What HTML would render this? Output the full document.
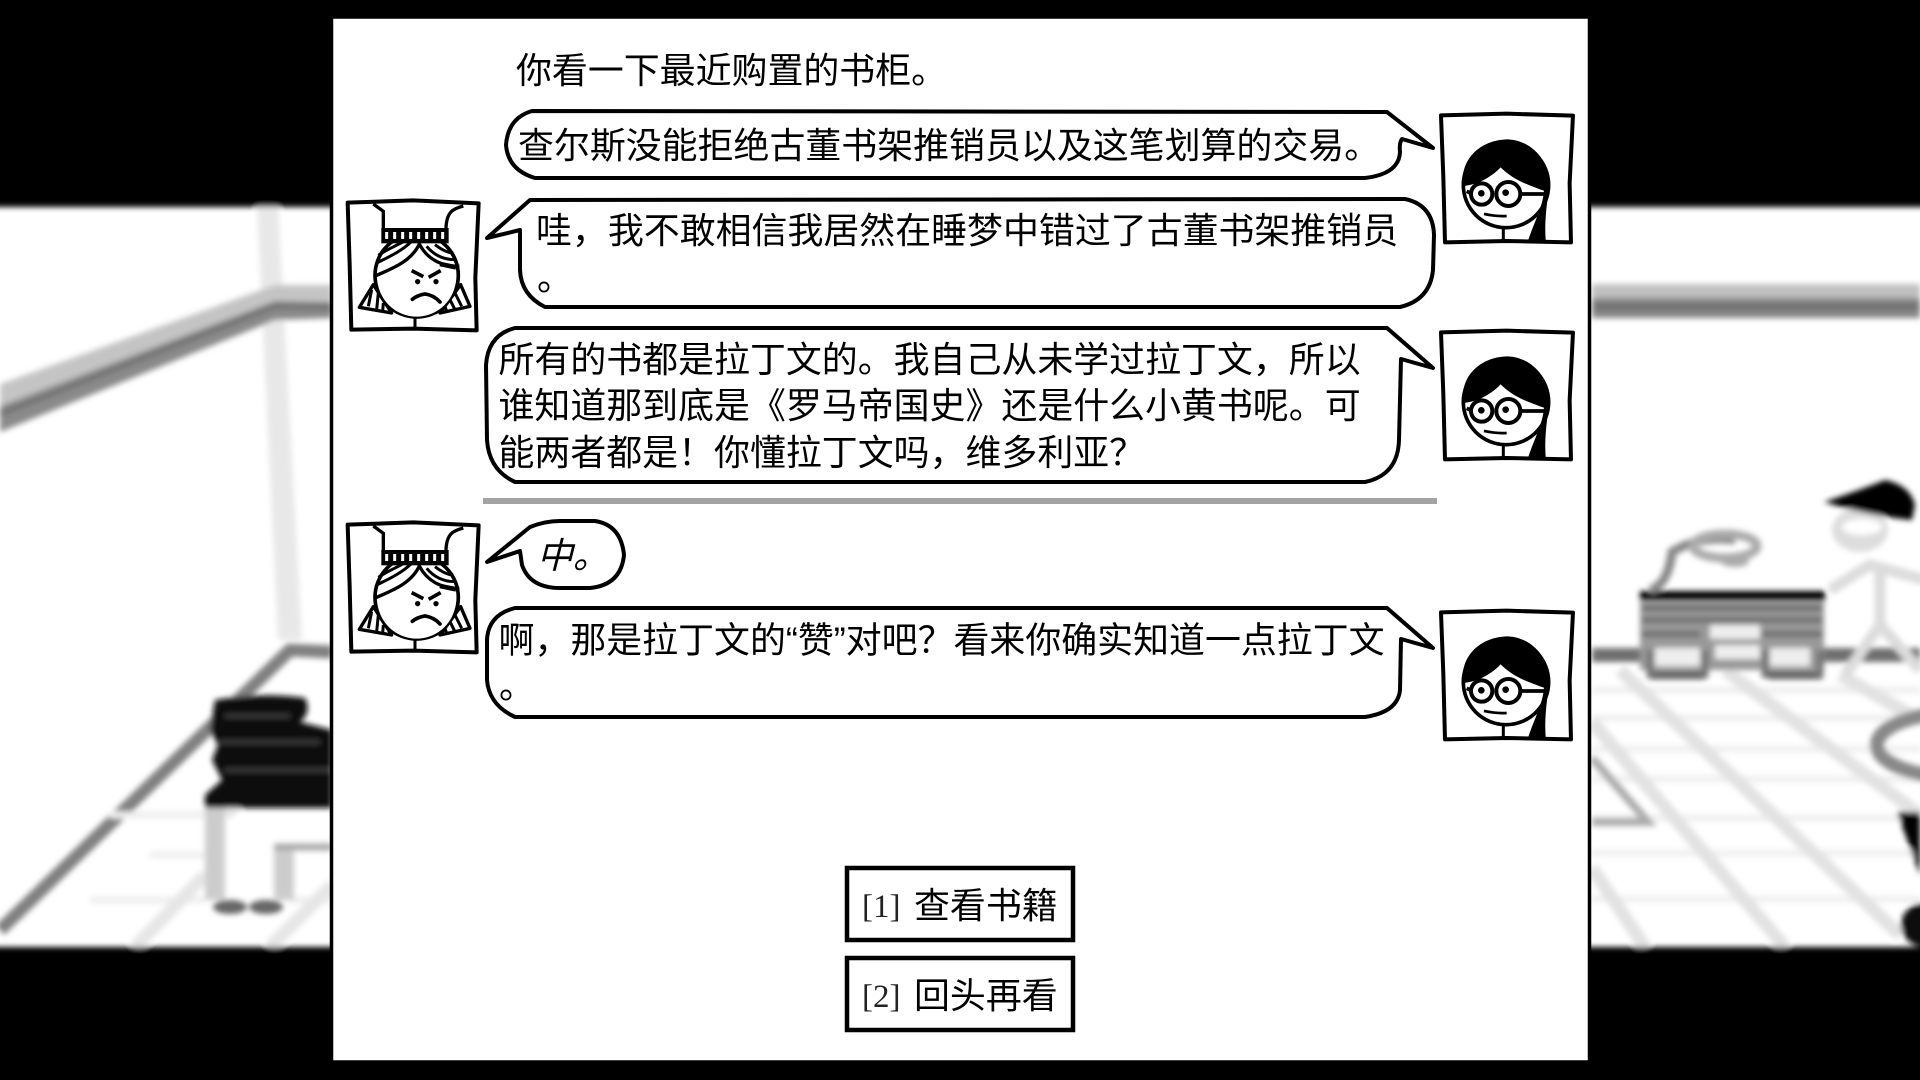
<!DOCTYPE html>
<html><head><meta charset="utf-8"><style>
html,body{margin:0;padding:0;background:#000;width:1920px;height:1080px;overflow:hidden}
svg{position:absolute;left:0;top:0;display:block}
.t{font-family:"Liberation Sans","Noto Sans CJK SC",sans-serif;font-size:35.93px;fill:#000}
.s{font-family:"Liberation Serif",serif;font-size:33px;fill:#222}
.b{fill:#fff;stroke:#000;stroke-width:4;stroke-linejoin:round}
</style></head><body>
<svg width="1920" height="1080" viewBox="0 0 1920 1080" xmlns="http://www.w3.org/2000/svg">
<defs>
<filter id="bl" x="-10%" y="-10%" width="120%" height="120%"><feGaussianBlur stdDeviation="2.8"/></filter>
<g id="girl" transform="translate(1280 90) scale(.3333)">
 <path d="M483 76 L680 71 L879 77 L869 280 L873 457 L680 453 L495 457 L490 260 Z" fill="#fff" stroke="#000" stroke-width="12" stroke-linejoin="round"/>
 <circle cx="678" cy="285" r="128" fill="#fff" stroke="#000" stroke-width="11"/>
 <path d="M550 288 C538 210 600 148 685 148 C765 153 817 225 808 307 L780 298 C745 285 700 270 662 232 C630 265 590 284 550 288 Z" fill="#000"/>
 <path d="M792 300 C790 350 760 400 742 460 L798 460 C792 400 800 350 806 300 Z" fill="#000"/>
 <circle cx="605" cy="312" r="32" fill="#fff" stroke="#000" stroke-width="12"/>
 <circle cx="685" cy="312" r="36" fill="#fff" stroke="#000" stroke-width="12"/>
 <path d="M560 304 L573 310 M720 312 L798 312" stroke="#000" stroke-width="11" fill="none"/>
 <circle cx="604" cy="310" r="10"/><circle cx="677" cy="308" r="10"/>
 <path d="M612 372 Q650 380 680 378" stroke="#000" stroke-width="8" fill="none"/>
 <path d="M670 412 V454" stroke="#000" stroke-width="9" fill="none"/>
</g>
<g id="crown" transform="translate(330 500) scale(.3333)">
 <path d="M53 74 L250 67 L446 76 L436 300 L440 457 L250 452 L64 455 L59 260 Z" fill="#fff" stroke="#000" stroke-width="12" stroke-linejoin="round"/>
 <path d="M130 78 L160 100 L160 150 M400 84 C370 92 350 100 348 150" stroke="#000" stroke-width="10" fill="none"/>
 <circle cx="260" cy="292" r="125" fill="#fff" stroke="#000" stroke-width="11"/>
 <path d="M130 320 L88 388 L185 405 Z M392 320 L420 385 L330 405 Z" fill="#fff" stroke="#000" stroke-width="10" stroke-linejoin="round"/>
 <path d="M125 335 L115 385 M145 345 L140 395 M160 375 L158 400 M375 345 L395 385 M360 365 L375 395 M345 385 L350 400" stroke="#000" stroke-width="9"/>
 <circle cx="260" cy="298" r="118" fill="#fff"/>
 <path d="M135 295 C160 280 240 260 268 198 C290 240 330 265 388 265" stroke="#000" stroke-width="10" fill="none"/>
 <path d="M140 255 C170 240 215 220 245 190 M145 232 C170 215 195 205 222 190 M290 205 C315 235 345 245 375 245 M315 200 C335 215 355 225 370 225" stroke="#000" stroke-width="9" fill="none"/>
 <path d="M330 258 L378 268" stroke="#000" stroke-width="14"/>
 <rect x="154" y="150" width="202" height="46" fill="#000"/>
 <path d="M170 162 V183 M194 162 V183 M218 162 V183 M242 162 V183 M266 162 V183 M290 162 V183 M314 162 V183 M338 162 V183" stroke="#fff" stroke-width="9"/>
 <path d="M245 278 L280 296 M332 278 L296 298" stroke="#000" stroke-width="11" fill="none"/>
 <circle cx="263" cy="311" r="8"/><circle cx="318" cy="311" r="8"/>
 <path d="M247 364 Q262 352 285 348 Q312 352 330 372" stroke="#000" stroke-width="11" fill="none" stroke-linecap="round"/>
 <path d="M255 418 V454" stroke="#000" stroke-width="9"/>
</g>
</defs>

<!-- background -->
<rect x="0" y="200" width="1920" height="755" fill="#fff"/>
<g filter="url(#bl)">
 <!-- left -->
 <path d="M257 205 L278 205 L302 640 L278 640 Z" fill="#e8e8e8"/>
 <path d="M0 384 L275 285 L332 285 L332 304 L275 304 L0 410 Z" fill="#c4c4c4"/>
 <path d="M0 406 L275 301 L332 302 L332 318 L275 320 L0 432 Z" fill="#8a8a8a"/>
 <path d="M0 414 L275 306 L332 307" fill="none" stroke="#6f6f6f" stroke-width="5"/>
 <path d="M0 930 L290 650 L332 652" fill="none" stroke="#808080" stroke-width="13"/>
 <path d="M110 815 H205 M150 855 H205 M90 900 H205 M290 900 H332" stroke="#efefef" stroke-width="7" fill="none"/>
 <path d="M135 947 L205 875 M270 947 L332 885 M225 815 L240 800" stroke="#e6e6e6" stroke-width="13" fill="none"/>
 <rect x="205" y="800" width="20" height="100" fill="#ccc"/>
 <rect x="274" y="845" width="20" height="55" fill="#ccc"/>
 <path d="M274 847 H332" stroke="#aaa" stroke-width="7"/>
 <ellipse cx="230" cy="907" rx="17" ry="7" fill="#666"/><ellipse cx="266" cy="907" rx="17" ry="7" fill="#666"/>
 <path d="M215 700 Q260 692 305 698 Q312 712 300 722 L332 730 L332 808 L205 808 L205 795 L222 780 L212 760 L218 745 L210 730 Z" fill="#0c0c0c"/>
 <path d="M225 716 H290 M220 742 H320 M225 770 H332" stroke="#444" stroke-width="3" fill="none"/>
 <!-- right -->
 <rect x="1592" y="284" width="328" height="15" fill="#c0c0c0"/>
 <rect x="1592" y="298" width="328" height="20" fill="#858585"/>
 <rect x="1592" y="304" width="328" height="5" fill="#6c6c6c"/>
 <path d="M1592 690 H1920 M1592 718 H1920 M1592 749 H1920 M1592 779 H1920 M1592 818 H1920 M1592 853 H1920 M1592 899 H1920" stroke="#f0f0f0" stroke-width="7" fill="none"/>
 <path d="M1620 670 L1900 935 M1725 670 L1920 815 M1592 722 L1785 947 M1592 868 L1645 947 M1840 675 L1920 720" stroke="#e2e2e2" stroke-width="13" fill="none"/>
 <path d="M1592 758 L1648 822 H1592" stroke="#aaa" stroke-width="8" fill="none"/>
 <rect x="1592" y="648" width="328" height="14" fill="#707070"/>
 <!-- desk -->
 <rect x="1640" y="602" width="184" height="68" fill="#999"/>
 <rect x="1710" y="625" width="50" height="14" fill="#eee"/>
 <rect x="1715" y="645" width="45" height="14" fill="#eee"/>
 <rect x="1655" y="648" width="45" height="18" fill="#eee"/>
 <rect x="1770" y="648" width="40" height="18" fill="#eee"/>
 <path d="M1642 608 H1822 M1642 620 H1822 M1642 634 H1700 M1762 634 H1822" stroke="#666" stroke-width="5" fill="none"/>
 <path d="M1650 675 H1705 M1768 675 H1822" stroke="#666" stroke-width="9" fill="none"/>
 <path d="M1650 650 V678 M1705 650 V678 M1765 650 V678 M1820 650 V678" stroke="#777" stroke-width="7" fill="none"/>
 <path d="M1640 596 H1825" stroke="#000" stroke-width="10"/>
 <path d="M1650 590 Q1668 585 1672 552 Q1700 535 1735 540" fill="none" stroke="#888" stroke-width="9"/>
 <ellipse cx="1725" cy="546" rx="32" ry="12" fill="none" stroke="#aaa" stroke-width="9"/>
 <ellipse cx="1735" cy="562" rx="14" ry="5" fill="#aaa"/>
 <!-- person -->
 <path d="M1830 590 L1870 565 L1925 580 M1880 565 V625 L1845 675 M1880 625 L1920 670" fill="none" stroke="#dcdcdc" stroke-width="11"/>
 <ellipse cx="1860" cy="530" rx="28" ry="22" fill="#ddd"/>
 <ellipse cx="1862" cy="527" rx="20" ry="8" fill="#fff"/>
 <path d="M1824 502 Q1860 490 1885 480 Q1910 485 1915 505 L1912 520 Q1870 516 1824 502 Z" fill="#000"/>
 <ellipse cx="1955" cy="745" rx="78" ry="32" fill="none" stroke="#888" stroke-width="14"/>
 <path d="M1897 812 L1920 812 L1920 875 Z" fill="#000"/>
 <ellipse cx="1925" cy="925" rx="24" ry="22" fill="#111"/>
 <!-- letterbox -->
 <rect x="-20" y="-20" width="1960" height="227" fill="#000"/>
 <rect x="-20" y="947" width="1960" height="150" fill="#000"/>
</g>

<!-- panel -->
<rect x="331.5" y="17" width="1258" height="1045" fill="#fff" stroke="#000" stroke-width="3.5"/>

<!-- divider -->
<rect x="483" y="498" width="954" height="6" fill="#a3a3a3"/>

<!-- avatars -->
<use href="#girl"/>
<use href="#girl" transform="translate(0 217)"/>
<use href="#girl" transform="translate(0 497)"/>
<use href="#crown"/>
<use href="#crown" transform="translate(0 -322)"/>

<!-- bubbles -->
<path class="b" d="M1387 112 L1433 148 L1402 139 Q1399 143 1400 152 Q1399 174 1365 178 L535 178 Q508 170 506 145 Q508 118 532 111 Z"/>
<path class="b" d="M530 200 L1405 199 Q1433 205 1434 235 L1433 270 Q1430 300 1400 307 L545 307 Q521 295 520 270 L520 230 L487 238 Z"/>
<path class="b" d="M1387 328 L1433 368 L1401 359 L1399 440 Q1398 475 1365 482 L515 482 Q489 470 487 440 L486 365 Q488 335 515 328 Z"/>
<path class="b" d="M487 562 L530 527 Q545 521 560 521 L595 521 Q621 525 624 555 Q621 585 590 588 L560 588 Q530 588 522 565 L520 551 Z"/>
<path class="b" d="M1387 608 L1433 648 L1401 639 L1400 690 Q1398 712 1365 717 L515 717 Q489 705 487 680 L487 640 Q488 615 515 608 Z"/>

<!-- text -->
<text class="t" x="516" y="83">你看一下最近购置的书柜。</text>
<text class="t" x="518" y="158">查尔斯没能拒绝古董书架推销员以及这笔划算的交易。</text>
<text class="t" x="536" y="243">哇，我不敢相信我居然在睡梦中错过了古董书架推销员</text>
<text class="t" x="537" y="290">。</text>
<text class="t" x="498.500" y="372">所有的书都是拉丁文的。我自己从未学过拉丁文，所以</text>
<text class="t" x="498.500" y="418">谁知道那到底是《罗马帝国史》还是什么小黄书呢。可</text>
<text class="t" x="498.500" y="465">能两者都是！你懂拉丁文吗，维多利亚？</text>
<text class="t" x="537" y="568" font-style="italic">中。</text>
<text class="t" x="498.500" y="652.500">啊，那是拉丁文的“赞”对吧？看来你确实知道一点拉丁文</text>
<text class="t" x="499" y="698">。</text>

<!-- buttons -->
<rect x="847" y="868" width="226" height="72" fill="#fff" stroke="#000" stroke-width="4.5"/>
<rect x="847" y="958" width="226" height="72" fill="#fff" stroke="#000" stroke-width="4.5"/>
<text class="s" x="862" y="917">[1]</text>
<text class="t" x="914" y="918">查看书籍</text>
<text class="s" x="862" y="1007">[2]</text>
<text class="t" x="914" y="1008">回头再看</text>
</svg>
</body></html>
